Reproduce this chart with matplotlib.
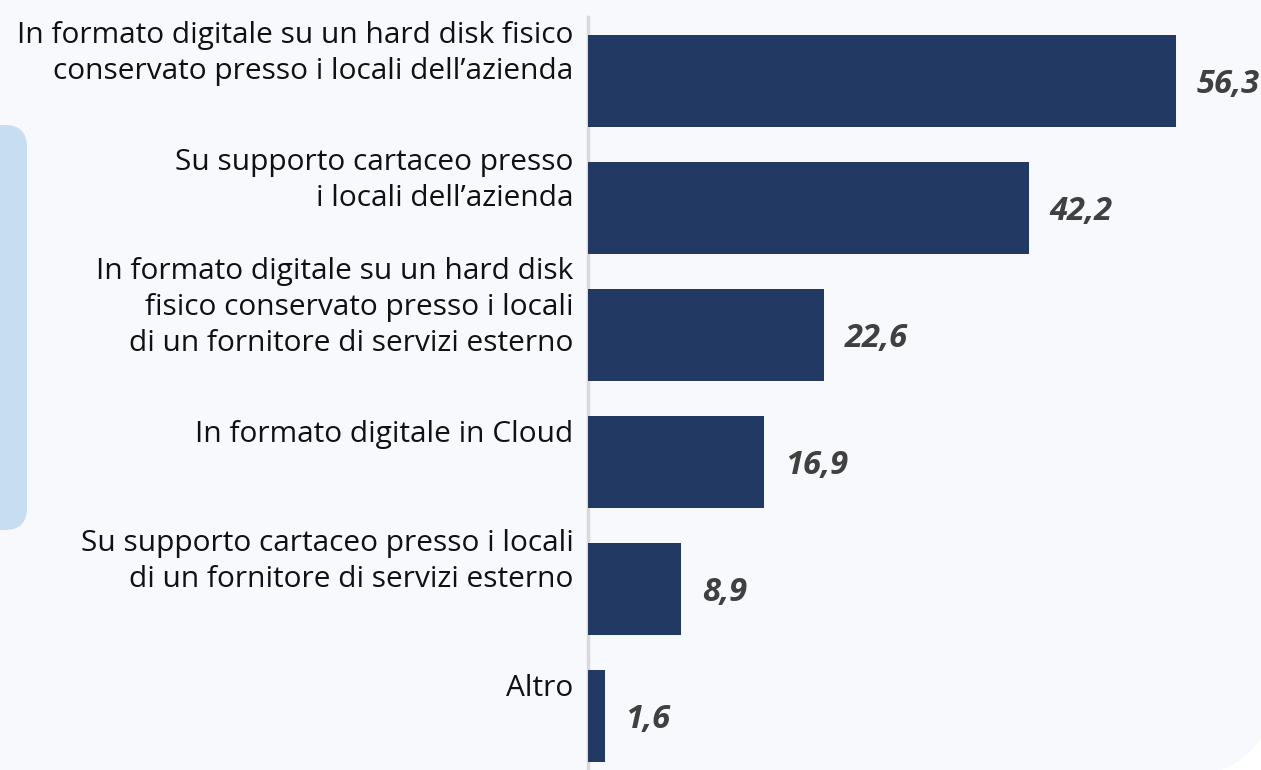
import matplotlib.pyplot as plt
from matplotlib.patches import FancyBboxPatch

categories = [
    "In formato digitale su un hard disk fisico\nconservato presso i locali dell\u2019azienda",
    "Su supporto cartaceo presso\ni locali dell\u2019azienda",
    "In formato digitale su un hard disk\nfisico conservato presso i locali\ndi un fornitore di servizi esterno",
    "In formato digitale in Cloud",
    "Su supporto cartaceo presso i locali\ndi un fornitore di servizi esterno",
    "Altro",
]
values = [56.3, 42.2, 22.6, 16.9, 8.9, 1.6]
value_labels = ["56,3", "42,2", "22,6", "16,9", "8,9", "1,6"]

W, H = 1261, 770
fig = plt.figure(figsize=(W / 100, H / 100), dpi=100)
fig.patch.set_facecolor("white")

# backdrop drawn in pixel units
bg_ax = fig.add_axes([0, 0, 1, 1], zorder=0)
bg_ax.set_xlim(0, W)
bg_ax.set_ylim(0, H)
bg_ax.axis("off")
bg_ax.add_patch(FancyBboxPatch((-300, -11), 1581, H + 400,
                               boxstyle="round,pad=0,rounding_size=121",
                               facecolor="#F7F9FD", edgecolor="none"))
bg_ax.add_patch(FancyBboxPatch((-60, H - 530), 87, 405,
                               boxstyle="round,pad=0,rounding_size=22",
                               facecolor="#C7DDF1", edgecolor="none"))

px_per_unit = 10.44
left_px = 588
ax = fig.add_axes([left_px / W, 0, (W - left_px) / W, (H - 17) / H], zorder=2)
ax.set_facecolor("none")
ax.set_xlim(0, (W - left_px) / px_per_unit)
ypos = list(range(len(values)))
ax.set_ylim(5 + 54 / 127, -(81 - 17) / 127)

ax.barh(ypos, values, height=0.72, color="#213963", zorder=3)

for y, v, lab in zip(ypos, values, value_labels):
    ax.text(v + 2.0, y + 0.03, lab, va="center", ha="left",
            fontsize=23.5, fontweight="bold", fontstyle="italic",
            color="#404040", family="Open Sans")

# category labels sit a little above the bar centres
for y, cat in zip(ypos, categories):
    ax.text(-1.4, y - 0.22, cat, va="center", ha="right", fontsize=21.5,
            family="Open Sans", color="#111111", linespacing=1.32,
            clip_on=False)

ax.set_yticks([])
ax.set_xticks([])
for s in ["top", "right", "bottom"]:
    ax.spines[s].set_visible(False)
ax.spines["left"].set_color("#D9D9D9")
ax.spines["left"].set_linewidth(2.5)

fig.savefig("out.png", dpi=100, facecolor=fig.get_facecolor())
